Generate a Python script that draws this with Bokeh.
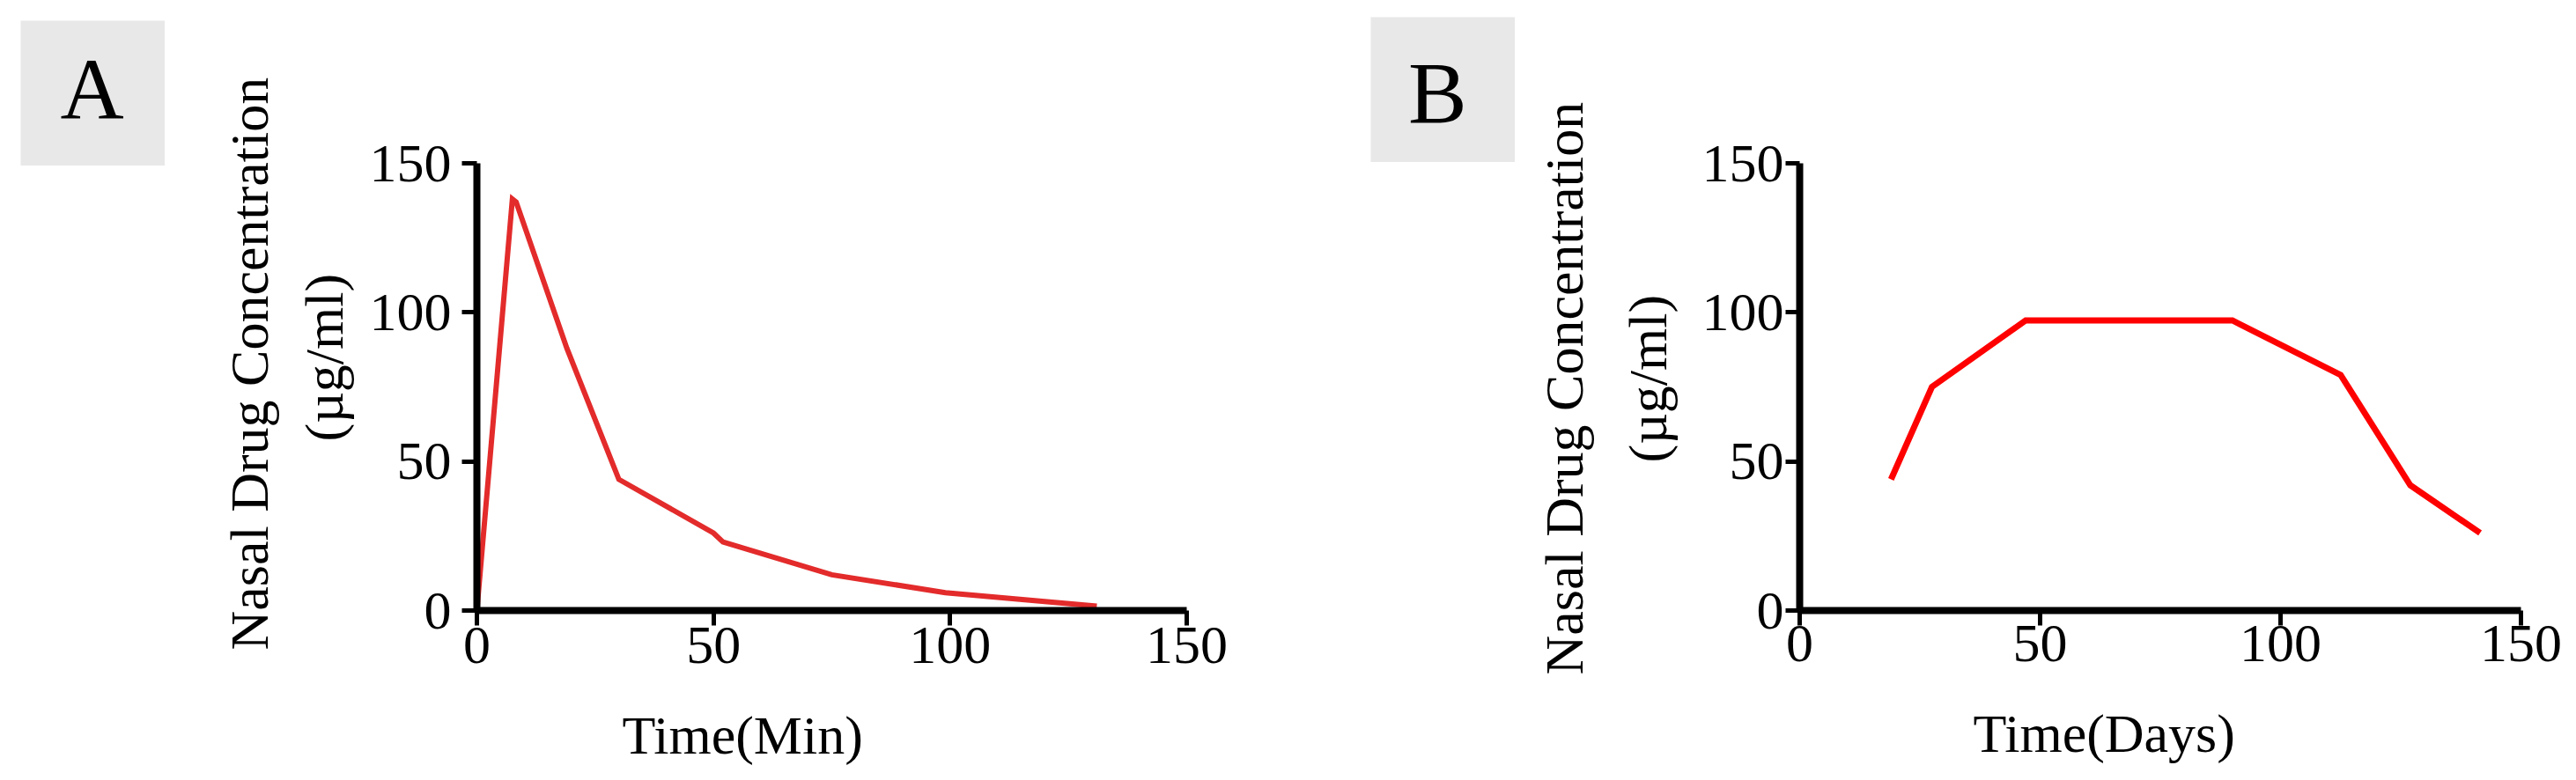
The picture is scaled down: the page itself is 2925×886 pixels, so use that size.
from bokeh.plotting import figure
from bokeh.layouts import row, column
from bokeh.models import Range1d, FixedTicker, Spacer, Title
from bokeh.core.properties import value
from bokeh.embed import file_html
from bokeh.resources import INLINE

# ---- data ----
time_min = [0, 7.5, 8.3, 19, 30, 50, 52, 75, 99, 131]
conc_a = [0, 138, 137, 88, 44, 26, 23, 12, 6, 1.5]

time_days = [19, 27.5, 47, 90, 112.5, 127, 141.5]
conc_b = [44, 75, 97.3, 97.3, 79, 42, 26]

ticks = [0, 50, 100, 150]
panel_letters = ["A", "B"]
y_title_1 = "Nasal Drug Concentration"
y_title_2 = "(\u00b5g/ml)"
x_titles = ["Time(Min)", "Time(Days)"]

FONT = "Liberation Serif"


def letter_box(letter, lx, ly):
    b = figure(width=164, height=165, x_range=Range1d(0, 1), y_range=Range1d(0, 1),
               toolbar_location=None, output_backend="svg", min_border=0,
               x_axis_location=None, y_axis_location=None,
               background_fill_color="#e8e8e8", border_fill_color="#e8e8e8",
               outline_line_color=None)
    b.grid.visible = False
    b.text(x=[lx], y=[ly], text=[letter], text_font=value(FONT),
           text_font_size=value("100px"), text_align="center",
           text_baseline="alphabetic", text_color="black")
    return b


def make_title(text, offset, standoff):
    return Title(text=text, align="left", offset=offset, standoff=standoff,
                 text_font=FONT, text_font_size="62px", text_font_style="normal",
                 text_color="black")


def panel(xs, ys, color, lw, width, height, bl, br, bt, bb,
          ytick_out, ystand, xstand, pad_stand, xtitle, xt_off, xt_stand,
          l2_off, l2_stand, l1_off, l1_stand):
    p = figure(width=width, height=height, x_range=Range1d(0, 150), y_range=Range1d(0, 150),
               toolbar_location=None, output_backend="svg",
               min_border_left=bl, min_border_right=br, min_border_top=bt, min_border_bottom=bb,
               outline_line_color=None, background_fill_color="white", border_fill_color="white")
    p.grid.visible = False
    for ax in (p.xaxis[0], p.yaxis[0]):
        ax.ticker = FixedTicker(ticks=ticks)
        ax.minor_tick_line_color = None
        ax.axis_line_width = 8
        ax.axis_line_color = "black"
        ax.major_tick_line_width = 5
        ax.major_tick_line_color = "black"
        ax.major_tick_in = 0
        ax.major_label_text_font = FONT
        ax.major_label_text_font_size = "62px"
        ax.major_label_text_color = "black"
    p.yaxis[0].major_tick_out = ytick_out
    p.yaxis[0].major_label_standoff = ystand
    p.xaxis[0].major_tick_out = 17
    p.xaxis[0].major_label_standoff = xstand
    # blank axis label only reserves room so the title sits lower
    p.xaxis[0].axis_label = " "
    p.xaxis[0].axis_label_text_font_size = "20px"
    p.xaxis[0].axis_label_standoff = pad_stand

    p.line(xs, ys, line_color=color, line_width=lw, line_join="miter")

    p.add_layout(make_title(xtitle, xt_off, xt_stand), "below")
    p.add_layout(make_title(y_title_2, l2_off, l2_stand), "left")
    p.add_layout(make_title(y_title_1, l1_off, l1_stand), "left")
    return p


box_a = letter_box(panel_letters[0], 0.494, 0.53)
box_b = letter_box(panel_letters[1], 0.463, 0.48)

fig_a = panel(time_min, conc_a, "#e32b2b", 6, 1353, 886, 354, 193, 179, 183,
              17, 12, 2, 16, x_titles[0], 165, 5, 192, 30, -45, 0)
fig_b = panel(time_days, conc_b, "#ff0000", 7, 1205, 886, 323, 63, 185, 193,
              16, 2, 0, 12, x_titles[1], 197, 13, 168, 50, -73, 0)

col_a = column(Spacer(width=187, height=23), row(Spacer(width=23, height=165), box_a))
col_b = column(Spacer(width=180, height=19), row(Spacer(width=16, height=165), box_b))

layout = row(col_a, fig_a, col_b, fig_b)

open("out.html", "w").write(file_html(layout, INLINE))
